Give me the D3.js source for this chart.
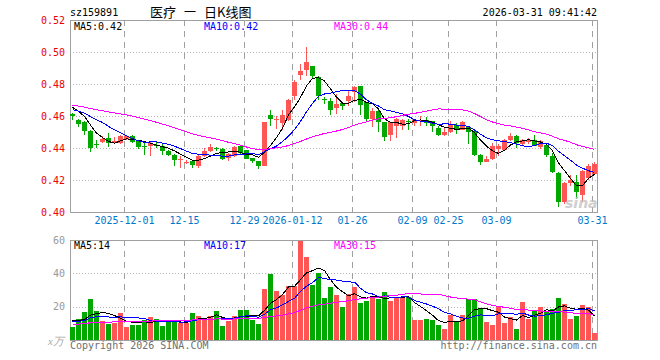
<!DOCTYPE html>
<html>
<head>
<meta charset="utf-8">
<script src="https://cdn.jsdelivr.net/npm/d3@7"></script>
<style>
body { margin: 0; background: #fff; }
text { font-family: "DejaVu Sans Mono", monospace; font-size: 10px; }
</style>
</head>
<body>
<script>
// trading days shown on the chart
var dates = ["2025-11-18","2025-11-19","2025-11-20","2025-11-21","2025-11-24","2025-11-25","2025-11-26","2025-11-27","2025-11-28",
  "2025-12-01","2025-12-02","2025-12-03","2025-12-04","2025-12-05","2025-12-08","2025-12-09","2025-12-10","2025-12-11","2025-12-12",
  "2025-12-15","2025-12-16","2025-12-17","2025-12-18","2025-12-19","2025-12-22","2025-12-23","2025-12-24","2025-12-25","2025-12-26",
  "2025-12-29","2025-12-30","2025-12-31","2026-01-05","2026-01-06","2026-01-07","2026-01-08","2026-01-09",
  "2026-01-12","2026-01-13","2026-01-14","2026-01-15","2026-01-16","2026-01-19","2026-01-20","2026-01-21","2026-01-22","2026-01-23",
  "2026-01-26","2026-01-27","2026-01-28","2026-01-29","2026-01-30","2026-02-02","2026-02-03","2026-02-04","2026-02-05","2026-02-06",
  "2026-02-09","2026-02-10","2026-02-11","2026-02-12","2026-02-13","2026-02-24","2026-02-25","2026-02-26","2026-02-27",
  "2026-03-02","2026-03-03","2026-03-04","2026-03-05","2026-03-06","2026-03-09","2026-03-10","2026-03-11","2026-03-12","2026-03-13",
  "2026-03-16","2026-03-17","2026-03-18","2026-03-19","2026-03-20","2026-03-23","2026-03-24","2026-03-25","2026-03-26","2026-03-27",
  "2026-03-30","2026-03-31"];

var open = [.4615,.4577,.4563,.4504,.4425,.4435,.4465,.4440,.4431,.4456,
  .4477,.4448,.4410,.4410,.4420,.4415,.4383,.4358,.4323,.4310,
  .4317,.4285,.4348,.4379,.4398,.4396,.4338,.4348,.4410,.4385,
  .4338,.4317,.4288,.4608,.4575,.4554,.4577,.4727,.4858,.4885,
  .4910,.4844,.4704,.4696,.4648,.4681,.4692,.4748,.4785,.4685,
  .4581,.4629,.4560,.4483,.4535,.4540,.4568,.4556,.4567,.4577,
  .4567,.4525,.4483,.4502,.4546,.4515,.4531,.4504,.4358,.4313,
  .4333,.4394,.4385,.4452,.4477,.4427,.4435,.4452,.4408,.4421,
  .4348,.4245,.4065,.4180,.4190,.4105,.4215,.4238];
var high = [.4618,.4580,.4570,.4510,.4452,.4473,.4494,.4467,.4481,.4481,
  .4483,.4452,.4431,.4435,.4446,.4427,.4390,.4360,.4348,.4323,
  .4327,.4354,.4400,.4427,.4408,.4400,.4369,.4415,.4417,.4390,
  .4340,.4320,.4560,.4635,.4602,.4635,.4706,.4827,.4927,.5031,
  .4915,.4848,.4719,.4713,.4738,.4685,.4754,.4790,.4790,.4690,
  .4650,.4650,.4565,.4563,.4588,.4583,.4583,.4583,.4598,.4594,
  .4570,.4540,.4530,.4567,.4556,.4567,.4540,.4510,.4362,.4348,
  .4431,.4425,.4456,.4494,.4481,.4456,.4460,.4483,.4448,.4427,
  .4369,.4250,.4188,.4229,.4229,.4262,.4300,.4310];
var low = [.4573,.4531,.4479,.4373,.4400,.4431,.4406,.4431,.4427,.4452,
  .4430,.4396,.4358,.4348,.4400,.4358,.4352,.4290,.4275,.4302,
  .4275,.4275,.4344,.4375,.4380,.4325,.4320,.4344,.4365,.4330,
  .4306,.4269,.4285,.4540,.4519,.4510,.4567,.4702,.4823,.4852,
  .4840,.4698,.4677,.4608,.4610,.4640,.4665,.4690,.4608,.4567,
  .4529,.4498,.4442,.4446,.4460,.4515,.4515,.4540,.4540,.4540,
  .4498,.4473,.4473,.4494,.4488,.4510,.4427,.4352,.4292,.4310,
  .4325,.4348,.4380,.4446,.4400,.4410,.4425,.4410,.4394,.4344,
  .4246,.4031,.4052,.4163,.4081,.4060,.4200,.4236];
var close = [.4598,.4550,.4504,.4398,.4417,.4456,.4431,.4446,.4477,.4477,
  .4436,.4404,.4406,.4431,.4415,.4383,.4358,.4323,.4331,.4314,
  .4296,.4352,.4379,.4406,.4394,.4333,.4363,.4404,.4369,.4333,
  .4317,.4285,.4560,.4583,.4579,.4608,.4702,.4810,.4883,.4935,
  .4848,.4727,.4700,.4635,.4677,.4665,.4727,.4779,.4671,.4581,
  .4629,.4560,.4469,.4560,.4581,.4577,.4565,.4577,.4577,.4556,
  .4535,.4483,.4498,.4546,.4519,.4560,.4498,.4358,.4310,.4333,
  .4415,.4415,.4452,.4477,.4431,.4448,.4452,.4415,.4442,.4358,
  .4250,.4065,.4180,.4198,.4125,.4258,.4290,.4302];
// volume, 万手
var volume = [7.6,12.6,16.6,24.8,17.2,11.2,9.8,10.4,16.4,7.6,
  9.2,9.2,12.2,14.0,12.6,8.6,11.2,11.2,10.4,10.4,
  16.4,14.6,12.6,14.2,17.6,8.6,11.2,14.6,18.2,18.2,
  11.8,9.8,30.8,39.8,29.2,26.8,32.6,32.6,59.6,50.0,
  33.2,40.4,25.4,32.0,27.2,20.0,27.8,32.0,22.4,23.6,
  25.2,24.8,29.0,23.6,25.6,25.6,25.6,11.8,12.2,12.6,
  12.2,9.2,6.8,14.8,11.6,15.2,24.6,24.6,18.6,11.0,
  9.2,19.8,10.4,13.8,6.8,23.0,12.8,18.0,20.0,17.4,
  18.6,25.0,21.6,12.4,14.6,21.0,20.0,4.0];
// sessions before the visible window, only used for the moving averages
var earlierClose = [.468,.470,.467,.465,.463,.466,.464,.467,.465,.465,
  .468,.471,.473,.470,.472,.469,.471,.468,.470,.468,
  .465,.463,.461,.462,.462,.4675,.466,.467,.4667];
var earlierVolume = [8.2,9.5,7.8,8.9,10.1,8.4,7.6,9.2,8.8,9.7,
  8.1,8.5,9.0,7.9,8.6,9.3,8.0,8.8,9.1,8.5,
  9.8,11.0,9.6,10.4,10.2,11.8,13.4,12.2,13.0];

var tickDates = ["2025-12-01","2025-12-15","2025-12-29","2026-01-12","2026-01-26","2026-02-09","2026-02-25","2026-03-09","2026-03-31"];
var tickLabels = ["2025-12-01","12-15","12-29","2026-01-12","01-26","02-09","02-25","03-09","03-31"];
var priceTicks = [0.40, 0.42, 0.44, 0.46, 0.48, 0.50, 0.52];
var volumeTicks = [20, 40, 60];
var maPeriods = [5, 10, 30];
var maColors = ["#000000", "#0000ff", "#ff00ff"];

var svgWidth = 660;
var svgHeight = 360;
var red = "#ff5555", green = "#00a800", frame = "#a0a0a0", grid = "#b4b4b4";

var svg = d3.select("body").append("svg")
  .attr("width", svgWidth)
  .attr("height", svgHeight);

var x = d3.scaleLinear().domain([0, dates.length]).range([70, 598]);
var y = d3.scaleLinear().domain([0.40, 0.52]).range([212, 20]);
var yv = d3.scaleLinear().domain([0, 60]).range([340, 240]);

function movingAverage(earlier, values, n) {
  var all = earlier.concat(values);
  var off = earlier.length;
  return values.map(function(v, i) {
    return d3.mean(all.slice(off + i - n + 1, off + i + 1));
  });
}
var priceMA = maPeriods.map(function(n) { return movingAverage(earlierClose, close, n); });
var volMA = maPeriods.map(function(n) { return movingAverage(earlierVolume, volume, n); });
var idx = d3.range(dates.length);
var tickIdx = tickDates.map(function(d) { return dates.indexOf(d); });
var isUp = function(i) { return close[i] >= open[i]; };

// ---- grid + frames
function panelGrid(top, bottom, hLines) {
  var g = svg.append("g");
  g.selectAll(".h").data(hLines).enter().append("line")
    .attr("x1", 70).attr("x2", 597)
    .attr("y1", function(d) { return Math.round(d) + 0.5; })
    .attr("y2", function(d) { return Math.round(d) + 0.5; })
    .attr("stroke", grid).attr("stroke-dasharray", "1,2");
  g.selectAll(".v").data(tickIdx).enter().append("line")
    .attr("x1", function(i) { return x(i) + 0.5; })
    .attr("x2", function(i) { return x(i) + 0.5; })
    .attr("y1", top).attr("y2", bottom)
    .attr("stroke", frame).attr("stroke-dasharray", "6,5");
  g.append("rect")
    .attr("x", 70.5).attr("y", top + 0.5)
    .attr("width", 527).attr("height", bottom - top)
    .attr("fill", "none").attr("stroke", frame);
}
panelGrid(20, 212, [0.42, 0.44, 0.46, 0.48, 0.50].map(y));
panelGrid(240, 340, [20, 40].map(yv));

// ---- axes
var yAxis = svg.append("g").attr("transform", "translate(70,0)")
  .call(d3.axisLeft(y).tickValues(priceTicks).tickSize(0).tickPadding(5).tickFormat(d3.format(".2f")));
yAxis.select(".domain").remove();
yAxis.selectAll("text").attr("fill", "#ee0000").style("font-size", "10px");

var vAxis = svg.append("g").attr("transform", "translate(70,0)")
  .call(d3.axisLeft(yv).tickValues(volumeTicks).tickSize(0).tickPadding(5));
vAxis.select(".domain").remove();
vAxis.selectAll("text").attr("fill", "#999999").style("font-size", "10px");

var xAxis = svg.append("g").attr("transform", "translate(0,212)")
  .call(d3.axisBottom(x).tickValues(tickIdx).tickSize(0).tickPadding(5)
    .tickFormat(function(i) { return tickLabels[tickIdx.indexOf(i)]; }));
xAxis.select(".domain").remove();
xAxis.selectAll("text").attr("fill", "#0078cc").style("font-size", "10px");

// ---- candles
var candles = svg.append("g").attr("shape-rendering", "crispEdges");
candles.selectAll(".wick").data(idx).enter().append("rect")
  .attr("x", function(i) { return x(i) + 2; })
  .attr("width", 1)
  .attr("y", function(i) { return Math.round(y(high[i])); })
  .attr("height", function(i) { return Math.max(1, Math.round(y(low[i])) - Math.round(y(high[i]))); })
  .attr("fill", function(i) { return isUp(i) ? red : green; });
candles.selectAll(".body").data(idx).enter().append("rect")
  .attr("x", function(i) { return x(i); })
  .attr("width", 5)
  .attr("y", function(i) { return Math.round(y(Math.max(open[i], close[i]))); })
  .attr("height", function(i) {
    return Math.max(1, Math.round(y(Math.min(open[i], close[i]))) - Math.round(y(Math.max(open[i], close[i]))));
  })
  .attr("fill", function(i) { return isUp(i) ? red : green; });

// ---- volume bars
svg.append("g").attr("shape-rendering", "crispEdges")
  .selectAll("rect").data(idx).enter().append("rect")
  .attr("x", function(i) { return x(i); })
  .attr("width", 5)
  .attr("y", function(i) { return Math.round(yv(volume[i])); })
  .attr("height", function(i) { return 340 - Math.round(yv(volume[i])); })
  .attr("fill", function(i) { return isUp(i) ? red : green; });

// ---- moving average lines
function drawMA(series, scale) {
  var line = d3.line()
    .x(function(d, i) { return x(i) + 2.5; })
    .y(function(d) { return scale(d); });
  series.forEach(function(s, k) {
    svg.append("path").datum(s)
      .attr("d", line)
      .attr("fill", "none")
      .attr("stroke", maColors[k])
      .attr("stroke-width", 1)
      .attr("shape-rendering", "crispEdges");
  });
}
drawMA(priceMA, y);
drawMA(volMA, yv);

// ---- labels
var last = dates.length - 1;
var maX = [74, 204, 334];
var f2 = d3.format(".2f"), f0 = d3.format(".0f");
maPeriods.forEach(function(n, k) {
  svg.append("text").attr("x", maX[k]).attr("y", 30).attr("fill", maColors[k])
    .text("MA" + n + ":" + f2(priceMA[k][last]));
  svg.append("text").attr("x", maX[k]).attr("y", 249).attr("fill", maColors[k])
    .text("MA" + n + ":" + f0(volMA[k][last]));
});

svg.append("text").attr("x", 70).attr("y", 16).attr("fill", "#000").text("sz159891");
var cjk = "'Noto Sans CJK SC'";
svg.append("text").attr("x", 150).attr("y", 17).style("font-family", cjk).style("font-size", "13px").text("医疗");
svg.append("text").attr("x", 184).attr("y", 17).style("font-family", cjk).style("font-size", "12px").text("一");
svg.append("text").attr("x", 204).attr("y", 17).style("font-family", cjk).style("font-size", "13px").text("日K线图");
svg.append("text").attr("x", 597).attr("y", 16).attr("text-anchor", "end").attr("fill", "#000").text("2026-03-31 09:41:42");

svg.append("text").attr("x", 64).attr("y", 345).attr("text-anchor", "end").attr("fill", "#aaaaaa")
  .style("font-family", "'Liberation Serif', serif").style("font-style", "italic").style("font-size", "11px").text("x万");
svg.append("text").attr("x", 70).attr("y", 349).attr("fill", "#707070").text("Copyright 2026 SINA.COM");
svg.append("text").attr("x", 597).attr("y", 349).attr("text-anchor", "end").attr("fill", "#707070").text("http://finance.sina.com.cn");

// watermark
svg.append("text").attr("x", 565).attr("y", 208).attr("fill", "#c0c0c0").attr("opacity", 0.75)
  .style("font-family", "'DejaVu Sans', sans-serif").style("font-weight", "bold").style("font-style", "italic")
  .style("font-size", "14px").text("sina");
</script>
</body>
</html>
